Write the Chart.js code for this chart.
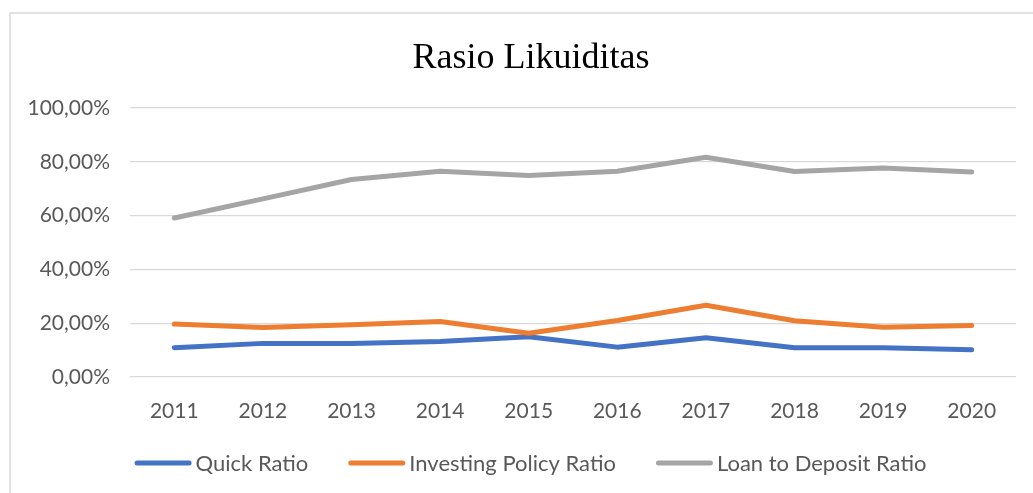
<!DOCTYPE html>
<html>
<head>
<meta charset="utf-8">
<script src="https://cdn.jsdelivr.net/npm/chart.js@4.4.1/dist/chart.umd.min.js"></script>
<style>
  html, body { margin: 0; padding: 0; background: #ffffff; }
  #wrap { position: relative; width: 1033px; height: 493px; }
</style>
</head>
<body>
<div id="wrap"><canvas id="c" width="1033" height="493"></canvas></div>
<script>
const chartTitle = "Rasio Likuiditas";
const years = ["2011", "2012", "2013", "2014", "2015", "2016", "2017", "2018", "2019", "2020"];
const quickRatio = [10.9, 12.5, 12.5, 13.2, 15.0, 11.1, 14.6, 10.9, 10.9, 10.1];
const investingPolicyRatio = [19.7, 18.4, 19.4, 20.6, 16.3, 21.0, 26.7, 20.9, 18.5, 19.1];
const loanToDepositRatio = [59.1, 66.2, 73.4, 76.5, 74.9, 76.5, 81.7, 76.4, 77.7, 76.2];
const seriesNames = ["Quick Ratio", "Investing Policy Ratio", "Loan to Deposit Ratio"];
const seriesColors = ["#4472C4", "#ED7D31", "#A5A5A5"];

const textColor = "#595959";
const uiFont = "Lato, 'Liberation Sans', sans-serif";

const framePlugin = {
  id: "frame",
  beforeDraw(chart) {
    const ctx = chart.ctx;
    ctx.save();
    ctx.fillStyle = "#ffffff";
    ctx.fillRect(0, 0, chart.width, chart.height);
    ctx.strokeStyle = "#d9d9d9";
    ctx.lineWidth = 1.5;
    ctx.strokeRect(10, 13, chart.width + 20, chart.height + 20);
    ctx.restore();
  }
};

const titlePlugin = {
  id: "customTitle",
  afterDraw(chart) {
    const ctx = chart.ctx;
    ctx.save();
    ctx.fillStyle = "#000000";
    ctx.font = "36px 'Liberation Serif', 'Times New Roman', serif";
    ctx.textAlign = "center";
    ctx.textBaseline = "alphabetic";
    ctx.fillText(chartTitle, 531, 68);
    ctx.restore();
  }
};

const legendPlugin = {
  id: "customLegend",
  afterDraw(chart) {
    const ctx = chart.ctx;
    const lineLen = 57, gapText = 4, gapItem = 40, cx = 530.5, cy = 463;
    ctx.save();
    ctx.font = "22px " + uiFont;
    const items = chart.data.datasets.map(ds => ({
      text: ds.label, color: ds.borderColor, w: ctx.measureText(ds.label).width
    }));
    let total = 0;
    items.forEach((it, i) => {
      total += lineLen + gapText + it.w + (i < items.length - 1 ? gapItem : 0);
    });
    let x = cx - total / 2;
    ctx.textBaseline = "middle";
    ctx.textAlign = "left";
    items.forEach(it => {
      ctx.strokeStyle = it.color;
      ctx.lineWidth = 5;
      ctx.lineCap = "round";
      ctx.beginPath();
      ctx.moveTo(x + 2.5, cy);
      ctx.lineTo(x + lineLen - 2.5, cy);
      ctx.stroke();
      ctx.fillStyle = textColor;
      ctx.fillText(it.text, x + lineLen + gapText, cy + 1);
      x += lineLen + gapText + it.w + gapItem;
    });
    ctx.restore();
  }
};

const seriesData = [quickRatio, investingPolicyRatio, loanToDepositRatio];
const datasets = seriesNames.map((name, i) => ({
  label: name,
  data: seriesData[i],
  borderColor: seriesColors[i],
  backgroundColor: seriesColors[i],
  borderWidth: 5,
  borderCapStyle: "round",
  borderJoinStyle: "round",
  pointRadius: 0,
  pointHoverRadius: 0,
  tension: 0,
  fill: false,
  order: 3 - i
}));

new Chart(document.getElementById("c"), {
  type: "line",
  data: { labels: years, datasets: datasets },
  plugins: [framePlugin, titlePlugin, legendPlugin],
  options: {
    responsive: false,
    animation: false,
    layout: { padding: { top: 108, left: 15, right: 17, bottom: 54 } },
    plugins: {
      title: { display: false },
      tooltip: { enabled: false },
      legend: { display: false }
    },
    scales: {
      x: {
        grid: { display: false },
        border: { display: false },
        offset: true,
        ticks: {
          color: textColor,
          font: { family: uiFont, size: 21 },
          padding: 14,
          maxRotation: 0
        },
        afterFit(scale) { scale.height = 62; }
      },
      y: {
        min: 0,
        max: 100,
        grid: { color: "#d9d9d9", lineWidth: 1.2, drawTicks: false },
        border: { display: false },
        ticks: {
          stepSize: 20,
          color: textColor,
          font: { family: uiFont, size: 21 },
          padding: 20,
          callback: (v) => v.toFixed(2).replace(".", ",") + "%"
        },
        afterFit(scale) { scale.width = 115; }
      }
    }
  }
});
</script>
</body>
</html>
